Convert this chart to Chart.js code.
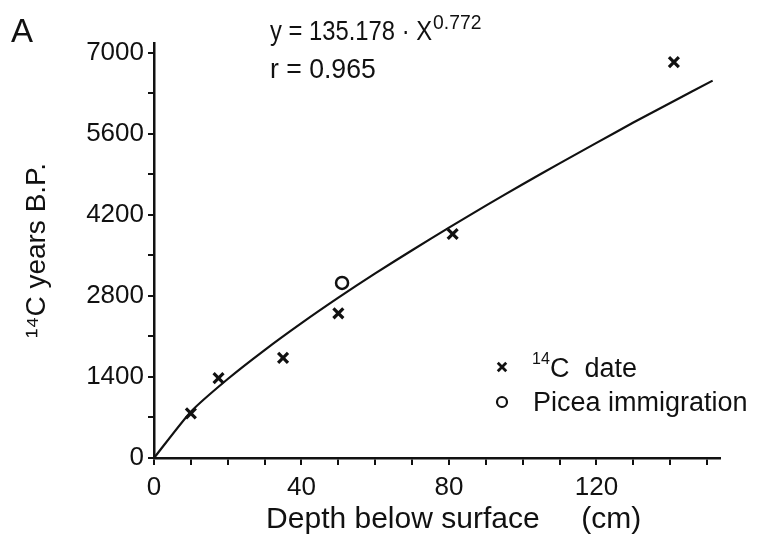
<!DOCTYPE html>
<html><head><meta charset="utf-8">
<script src="https://cdn.jsdelivr.net/npm/chart.js@4.4.0/dist/chart.umd.min.js"></script>
<style>html,body{margin:0;padding:0;background:#fff}#wrap{width:757px;height:543px;position:relative}</style>
</head><body><div id="wrap"><canvas id="c"></canvas></div>
<script>
// 14C dates
const dateDepth = [10, 17.5, 35, 50, 81, 141];
const dateAge = [770, 1380, 1730, 2500, 3870, 6840];
// Picea immigration
const piceaDepth = [51];
const piceaAge = [3025];
// fitted curve
const curveDepth = [0, 10, 20, 30, 40, 50, 60, 70, 80, 90, 100, 110, 120, 130, 140, 151.5];
const curveAge = [0, 800, 1365, 1865, 2330, 2770, 3190, 3590, 3980, 4360, 4730, 5090, 5445, 5795, 6135, 6520];
// ticks
const xTicks = [0, 10, 20, 30, 40, 50, 60, 70, 80, 90, 100, 110, 120, 130, 140, 150];
const xLabels = [0, 40, 80, 120];
const yTicks = [0, 700, 1400, 2100, 2800, 3500, 4200, 4900, 5600, 6300, 7000];
const yLabels = [0, 1400, 2800, 4200, 5600, 7000];

const INK = '#111';
const FONT = '"Liberation Sans", Arial, sans-serif';

function squeezedText(ctx, text, x, y, sx) {
  ctx.save();
  ctx.translate(x, y);
  ctx.scale(sx, 1);
  ctx.fillText(text, 0, 0);
  const w = ctx.measureText(text).width * sx;
  ctx.restore();
  return w;
}

const textPlugin = {
  id: 'texts',
  afterDraw(chart) {
    const ctx = chart.ctx;
    ctx.save();
    ctx.fillStyle = INK;
    ctx.textBaseline = 'alphabetic';
    ctx.textAlign = 'left';
    // panel letter
    ctx.font = '33px ' + FONT;
    ctx.fillText('A', 11, 42);
    // equation
    ctx.font = '28px ' + FONT;
    const w = squeezedText(ctx, 'y = 135.178 \u00b7 X', 270, 40, 0.85);
    ctx.font = '21px ' + FONT;
    squeezedText(ctx, '0.772', 270 + w + 1, 29, 0.92);
    ctx.font = '28px ' + FONT;
    squeezedText(ctx, 'r = 0.965', 270, 78, 0.95);
    // legend
    ctx.strokeStyle = INK;
    ctx.lineWidth = 2.8;
    Chart.helpers.drawPoint(ctx, {pointStyle: 'crossRot', radius: 6, rotation: 0, borderWidth: 2.8}, 502, 367);
    ctx.lineWidth = 2.2;
    ctx.fillStyle = '#fff';
    Chart.helpers.drawPoint(ctx, {pointStyle: 'circle', radius: 5, rotation: 0, borderWidth: 2.2}, 502, 402);
    ctx.fillStyle = INK;
    ctx.font = '16px ' + FONT;
    ctx.fillText('14', 532, 364);
    ctx.font = '27px ' + FONT;
    ctx.fillText('C  date', 550, 377);
    ctx.fillText('Picea immigration', 533, 411);
    ctx.restore();
  }
};

new Chart(document.getElementById('c'), {
  type: 'scatter',
  data: {
    datasets: [
      {
        label: 'fit',
        data: curveDepth.map((d, i) => ({x: d, y: curveAge[i]})),
        showLine: true,
        borderColor: INK,
        borderWidth: 2.2,
        pointRadius: 0,
        tension: 0.2,
        order: 3
      },
      {
        label: '14C date',
        data: dateDepth.map((d, i) => ({x: d, y: dateAge[i]})),
        pointStyle: 'crossRot',
        pointRadius: 7,
        pointBorderWidth: 3.2,
        borderColor: INK,
        backgroundColor: INK,
        order: 1
      },
      {
        label: 'Picea immigration',
        data: piceaDepth.map((d, i) => ({x: d, y: piceaAge[i]})),
        pointStyle: 'circle',
        pointRadius: 6,
        pointBorderWidth: 2.5,
        borderColor: INK,
        backgroundColor: '#fff',
        order: 2
      }
    ]
  },
  options: {
    responsive: true,
    maintainAspectRatio: false,
    animation: false,
    layout: {padding: {left: 0, right: 37, top: 43, bottom: 0}},
    plugins: {legend: {display: false}, tooltip: {enabled: false}},
    scales: {
      x: {
        type: 'linear',
        min: 0,
        max: 153.5,
        afterBuildTicks: (s) => { s.ticks = xTicks.map(v => ({value: v})); },
        afterFit: (s) => { s.height = 85; },
        ticks: {
          autoSkip: false, maxRotation: 0, minRotation: 0,
          color: INK, padding: 7,
          font: {family: FONT, size: 26},
          callback: (v) => xLabels.includes(v) ? String(v) : ''
        },
        grid: {drawOnChartArea: false, drawTicks: true, tickLength: 7, color: INK, lineWidth: 2},
        border: {display: true, color: INK, width: 2.5},
        title: {display: true, text: '    Depth below surface     (cm)', color: INK,
          font: {family: FONT, size: 30}, padding: {top: 0, bottom: 5}}
      },
      y: {
        type: 'linear',
        min: 0,
        max: 7170,
        afterBuildTicks: (s) => { s.ticks = yTicks.map(v => ({value: v})); },
        afterFit: (s) => { s.width = 154; },
        ticks: {
          autoSkip: false, color: INK, padding: 4,
          font: {family: FONT, size: 26},
          callback: (v) => yLabels.includes(v) ? String(v) : ''
        },
        grid: {drawOnChartArea: false, drawTicks: true, tickLength: 6, color: INK, lineWidth: 2},
        border: {display: true, color: INK, width: 2.5},
        title: {display: true, text: '\u00b9\u2074C years B.P.', color: INK,
          font: {family: FONT, size: 28}, padding: {top: 20, bottom: 0}}
      }
    }
  },
  plugins: [textPlugin]
});
</script>
</body></html>
